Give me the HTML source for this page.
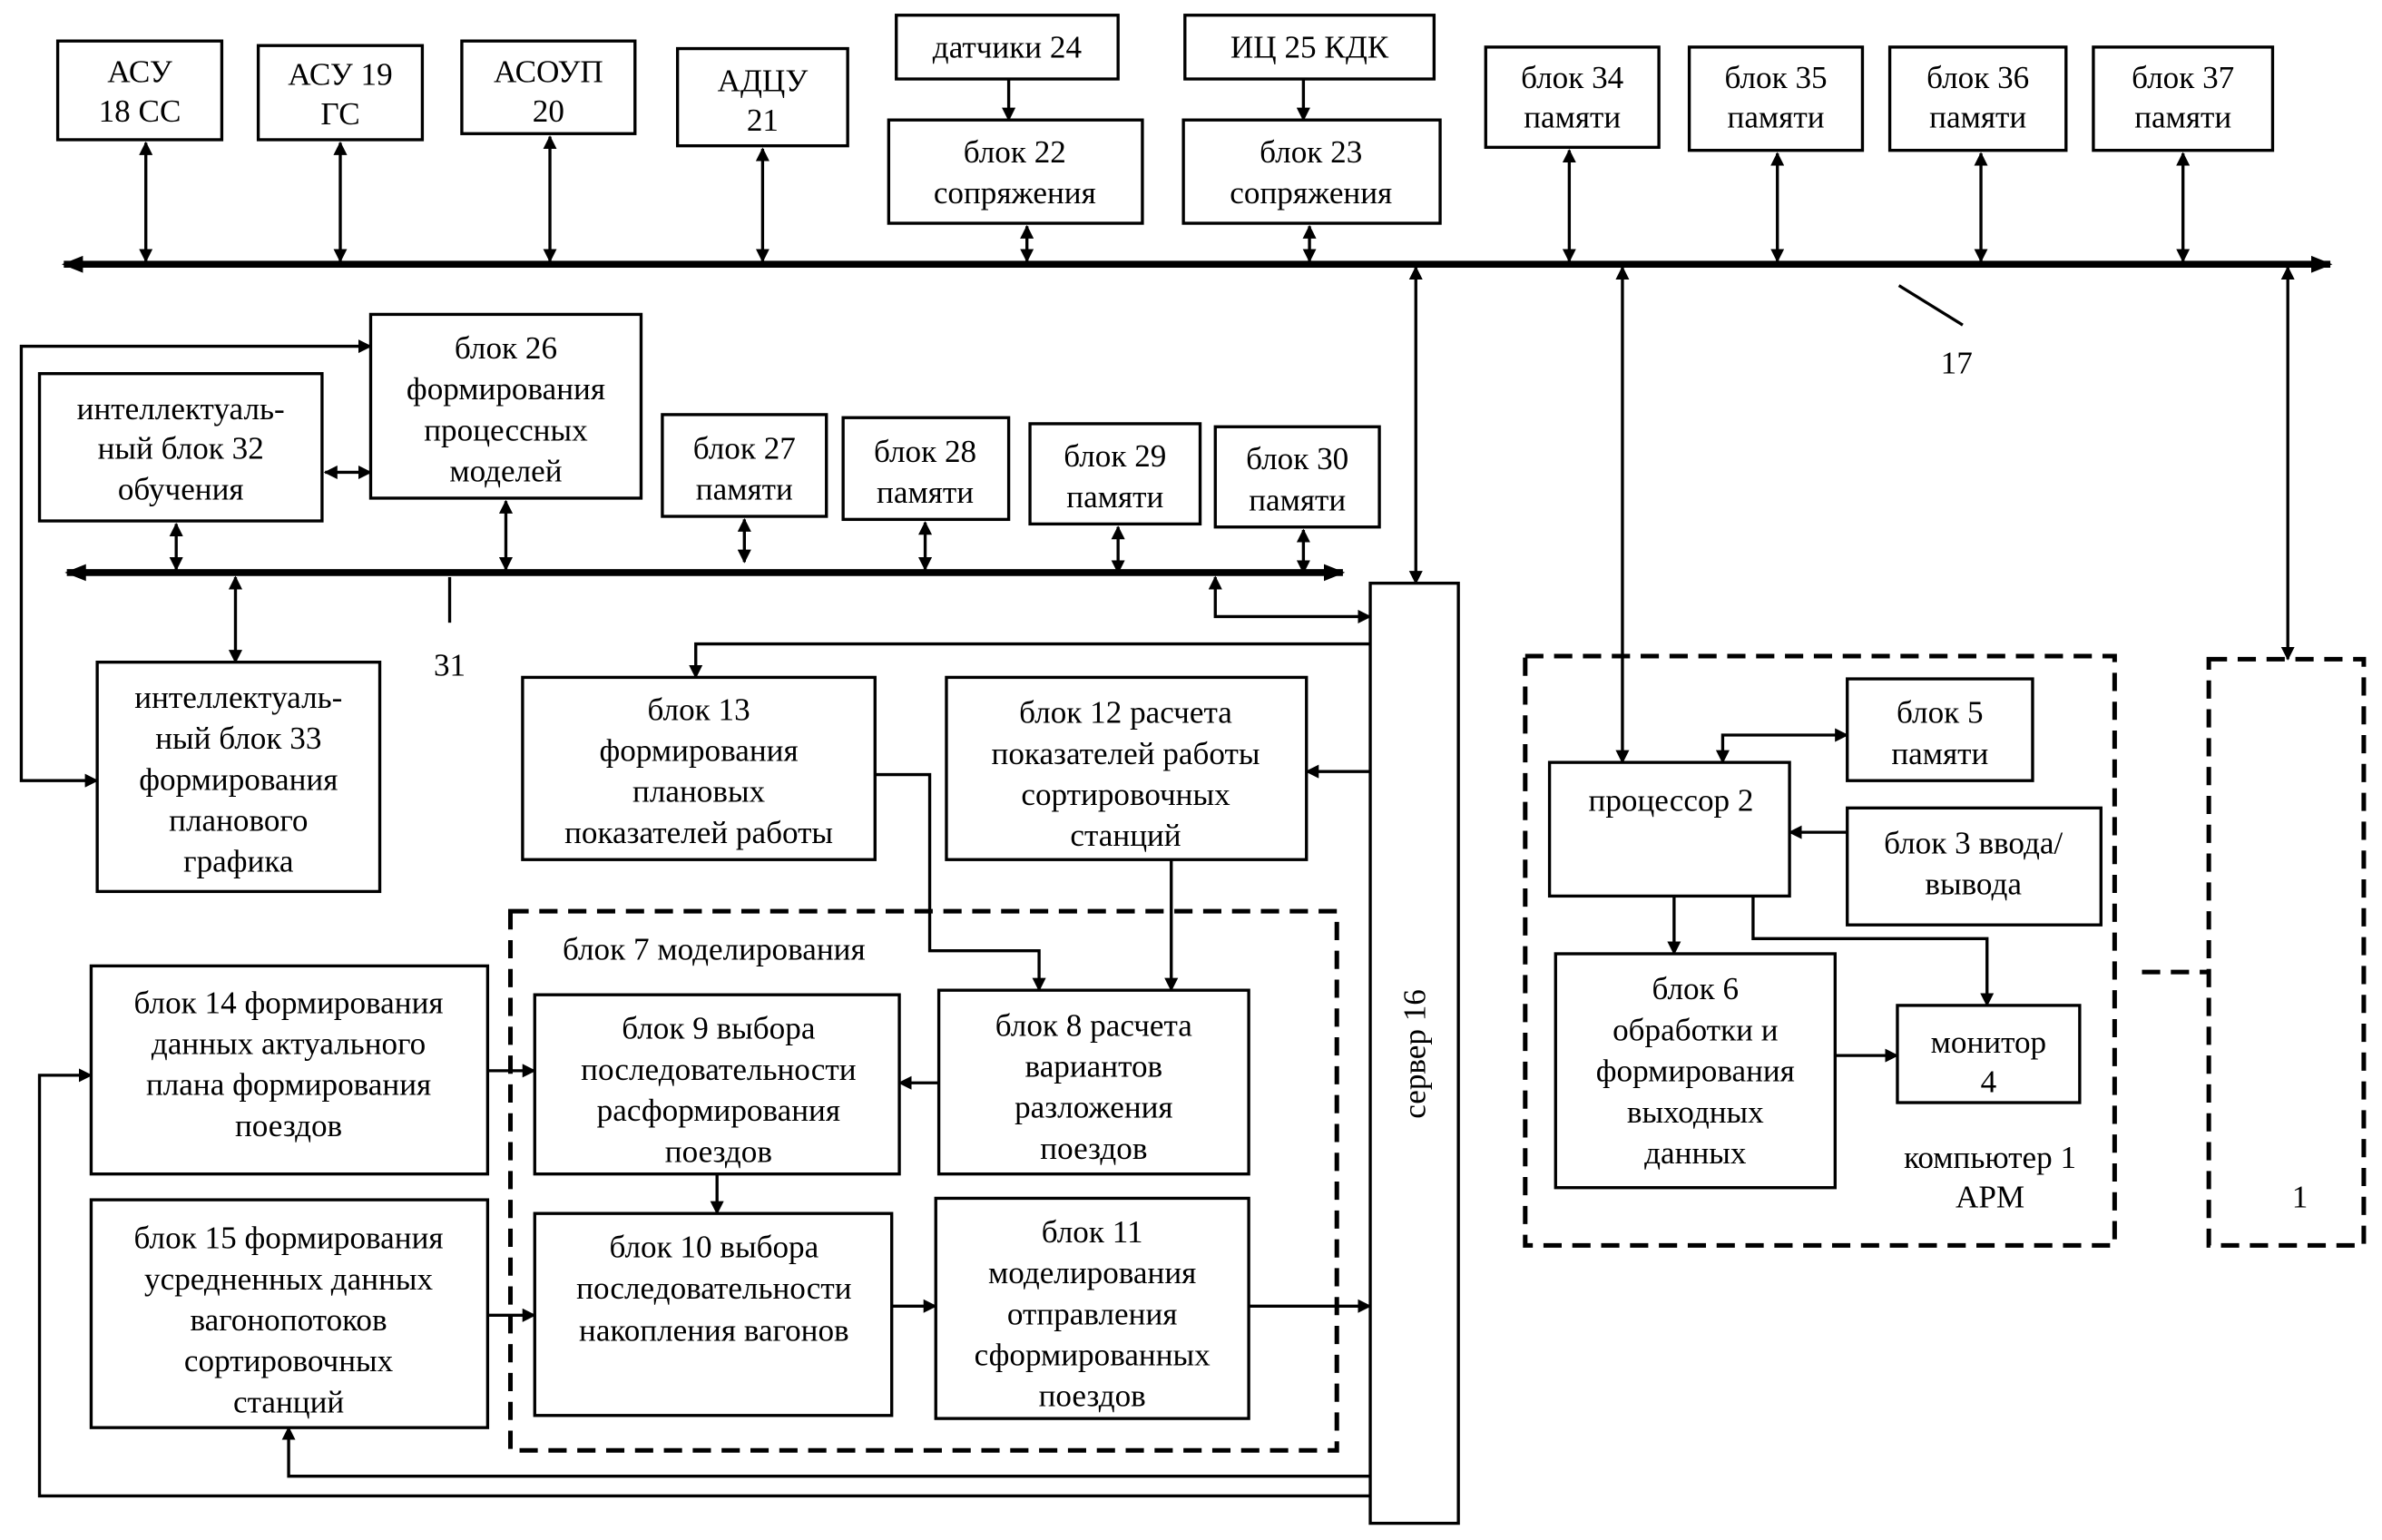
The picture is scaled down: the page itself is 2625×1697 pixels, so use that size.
<!DOCTYPE html>
<html><head><meta charset="utf-8"><style>
html,body{margin:0;padding:0;background:#fff;}
svg{display:block;}
text{font-family:"Liberation Serif","DejaVu Serif",serif;font-size:21px;fill:#000;text-anchor:middle;}
</style></head><body>
<svg width="2625" height="1697" viewBox="0 0 1568 1014" preserveAspectRatio="none" xmlns="http://www.w3.org/2000/svg" font-family="Liberation Serif, DejaVu Serif, serif">
<defs>
<marker id="a" viewBox="0 0 10 10" refX="9" refY="5" markerWidth="9" markerHeight="9" orient="auto-start-reverse" markerUnits="userSpaceOnUse"><path d="M0,0 L10,5 L0,10 z" fill="#000"/></marker>
<marker id="b" viewBox="0 0 10 10" refX="9" refY="5" markerWidth="14" markerHeight="14" orient="auto-start-reverse" markerUnits="userSpaceOnUse"><path d="M0,1 L10,5 L0,9 z" fill="#000"/></marker>
</defs>
<g fill="none" stroke="#000" stroke-width="2">
<rect x="38" y="27" width="108" height="65"/>
<rect x="170" y="30" width="108" height="62"/>
<rect x="304" y="27" width="114" height="61"/>
<rect x="446" y="32" width="112" height="64"/>
<rect x="590" y="10" width="146" height="42"/>
<rect x="585" y="79" width="167" height="68"/>
<rect x="780" y="10" width="164" height="42"/>
<rect x="779" y="79" width="169" height="68"/>
<rect x="978" y="31" width="114" height="66"/>
<rect x="1112" y="31" width="114" height="68"/>
<rect x="1244" y="31" width="116" height="68"/>
<rect x="1378" y="31" width="118" height="68"/>
<rect x="244" y="207" width="178" height="121"/>
<rect x="26" y="246" width="186" height="97"/>
<rect x="436" y="273" width="108" height="67"/>
<rect x="555" y="275" width="109" height="67"/>
<rect x="678" y="279" width="112" height="66"/>
<rect x="800" y="281" width="108" height="66"/>
<rect x="64" y="436" width="186" height="151"/>
<rect x="902" y="384" width="58" height="619"/>
<rect x="344" y="446" width="232" height="120"/>
<rect x="623" y="446" width="237" height="120"/>
<rect x="352" y="655" width="240" height="118"/>
<rect x="618" y="652" width="204" height="121"/>
<rect x="352" y="799" width="235" height="133"/>
<rect x="616" y="789" width="206" height="145"/>
<rect x="60" y="636" width="261" height="137"/>
<rect x="60" y="790" width="261" height="150"/>
<rect x="1216" y="447" width="122" height="67"/>
<rect x="1020" y="502" width="158" height="88"/>
<rect x="1216" y="532" width="167" height="77"/>
<rect x="1024" y="628" width="184" height="154"/>
<rect x="1249" y="662" width="120" height="64"/>
</g>
<g fill="none" stroke="#000" stroke-width="3" stroke-dasharray="12,7">
<rect x="336" y="600" width="544" height="355"/>
<rect x="1004" y="432" width="388" height="388"/>
<rect x="1454" y="434" width="102" height="386"/>
<line x1="1410" y1="640" x2="1454" y2="640"/>
</g>
<g stroke="#000" stroke-width="4.5">
<line x1="42" y1="174" x2="1534" y2="174" marker-start="url(#b)" marker-end="url(#b)"/>
<line x1="44" y1="377" x2="884" y2="377" marker-start="url(#b)" marker-end="url(#b)"/>
</g>
<g stroke="#000" stroke-width="2" fill="none">
<line x1="96" y1="94" x2="96" y2="172" marker-start="url(#a)" marker-end="url(#a)"/>
<line x1="224" y1="94" x2="224" y2="172" marker-start="url(#a)" marker-end="url(#a)"/>
<line x1="362" y1="90" x2="362" y2="172" marker-start="url(#a)" marker-end="url(#a)"/>
<line x1="502" y1="98" x2="502" y2="172" marker-start="url(#a)" marker-end="url(#a)"/>
<line x1="676" y1="149" x2="676" y2="172" marker-start="url(#a)" marker-end="url(#a)"/>
<line x1="862" y1="149" x2="862" y2="172" marker-start="url(#a)" marker-end="url(#a)"/>
<line x1="664" y1="52" x2="664" y2="79" marker-end="url(#a)"/>
<line x1="858" y1="52" x2="858" y2="79" marker-end="url(#a)"/>
<line x1="1033" y1="99" x2="1033" y2="172" marker-start="url(#a)" marker-end="url(#a)"/>
<line x1="1170" y1="101" x2="1170" y2="172" marker-start="url(#a)" marker-end="url(#a)"/>
<line x1="1304" y1="101" x2="1304" y2="172" marker-start="url(#a)" marker-end="url(#a)"/>
<line x1="1437" y1="101" x2="1437" y2="172" marker-start="url(#a)" marker-end="url(#a)"/>
<line x1="932" y1="176" x2="932" y2="384" marker-start="url(#a)" marker-end="url(#a)"/>
<line x1="1068" y1="176" x2="1068" y2="502" marker-start="url(#a)" marker-end="url(#a)"/>
<line x1="1506" y1="176" x2="1506" y2="434" marker-start="url(#a)" marker-end="url(#a)"/>
<line x1="1250" y1="188" x2="1292" y2="214"/>
<line x1="214" y1="311" x2="244" y2="311" marker-start="url(#a)" marker-end="url(#a)"/>
<line x1="116" y1="345" x2="116" y2="375" marker-start="url(#a)" marker-end="url(#a)"/>
<line x1="333" y1="330" x2="333" y2="375" marker-start="url(#a)" marker-end="url(#a)"/>
<line x1="490" y1="342" x2="490" y2="370" marker-start="url(#a)" marker-end="url(#a)"/>
<line x1="609" y1="344" x2="609" y2="375" marker-start="url(#a)" marker-end="url(#a)"/>
<line x1="736" y1="347" x2="736" y2="377" marker-start="url(#a)" marker-end="url(#a)"/>
<line x1="858" y1="349" x2="858" y2="377" marker-start="url(#a)" marker-end="url(#a)"/>
<line x1="155" y1="380" x2="155" y2="436" marker-start="url(#a)" marker-end="url(#a)"/>
<line x1="296" y1="380" x2="296" y2="410"/>
<polyline points="244,228 14,228 14,514 64,514" marker-start="url(#a)" marker-end="url(#a)"/>
<polyline points="800,380 800,406 902,406" marker-start="url(#a)" marker-end="url(#a)"/>
<polyline points="902,424 458,424 458,446" marker-end="url(#a)"/>
<line x1="902" y1="508" x2="860" y2="508" marker-end="url(#a)"/>
<polyline points="576,510 612,510 612,626 684,626 684,652" marker-end="url(#a)"/>
<line x1="771" y1="566" x2="771" y2="652" marker-end="url(#a)"/>
<line x1="618" y1="713" x2="592" y2="713" marker-end="url(#a)"/>
<line x1="472" y1="773" x2="472" y2="799" marker-end="url(#a)"/>
<line x1="587" y1="860" x2="616" y2="860" marker-end="url(#a)"/>
<line x1="822" y1="860" x2="902" y2="860" marker-end="url(#a)"/>
<line x1="321" y1="705" x2="352" y2="705" marker-end="url(#a)"/>
<line x1="321" y1="866" x2="352" y2="866" marker-end="url(#a)"/>
<polyline points="902,985 26,985 26,708 60,708" marker-end="url(#a)"/>
<polyline points="902,972 190,972 190,940" marker-end="url(#a)"/>
<polyline points="1216,484 1134,484 1134,502" marker-start="url(#a)" marker-end="url(#a)"/>
<line x1="1216" y1="548" x2="1178" y2="548" marker-end="url(#a)"/>
<line x1="1102" y1="590" x2="1102" y2="628" marker-end="url(#a)"/>
<line x1="1208" y1="695" x2="1249" y2="695" marker-end="url(#a)"/>
<polyline points="1154,590 1154,618 1308,618 1308,662" marker-end="url(#a)"/>
</g>
<g font-family="Liberation Serif, DejaVu Serif, serif">
<text x="92" y="54">АСУ</text><text x="92" y="80">18 СС</text>
<text x="224" y="56">АСУ 19</text><text x="224" y="82">ГС</text>
<text x="361" y="54">АСОУП</text><text x="361" y="80">20</text>
<text x="502" y="60">АДЦУ</text><text x="502" y="86">21</text>
<text x="663" y="38">датчики 24</text>
<text x="668" y="107">блок 22</text><text x="668" y="134">сопряжения</text>
<text x="862" y="38">ИЦ 25 КДК</text>
<text x="863" y="107">блок 23</text><text x="863" y="134">сопряжения</text>
<text x="1035" y="58">блок 34</text><text x="1035" y="84">памяти</text>
<text x="1169" y="58">блок 35</text><text x="1169" y="84">памяти</text>
<text x="1302" y="58">блок 36</text><text x="1302" y="84">памяти</text>
<text x="1437" y="58">блок 37</text><text x="1437" y="84">памяти</text>
<text x="1288" y="246">17</text>
<text x="333" y="236">блок 26</text><text x="333" y="263">формирования</text><text x="333" y="290">процессных</text><text x="333" y="317">моделей</text>
<text x="119" y="276">интеллектуаль-</text><text x="119" y="302">ный блок 32</text><text x="119" y="329">обучения</text>
<text x="490" y="302">блок 27</text><text x="490" y="329">памяти</text>
<text x="609" y="304">блок 28</text><text x="609" y="331">памяти</text>
<text x="734" y="307">блок 29</text><text x="734" y="334">памяти</text>
<text x="854" y="309">блок 30</text><text x="854" y="336">памяти</text>
<text x="296" y="445">31</text>
<text x="157" y="466">интеллектуаль-</text><text x="157" y="493">ный блок 33</text><text x="157" y="520">формирования</text><text x="157" y="547">планового</text><text x="157" y="574">графика</text>
<text x="460" y="474">блок 13</text><text x="460" y="501">формирования</text><text x="460" y="528">плановых</text><text x="460" y="555">показателей работы</text>
<text x="741" y="476">блок 12 расчета</text><text x="741" y="503">показателей работы</text><text x="741" y="530">сортировочных</text><text x="741" y="557">станций</text>
<text x="470" y="632">блок 7 моделирования</text>
<text x="473" y="684">блок 9 выбора</text><text x="473" y="711">последовательности</text><text x="473" y="738">расформирования</text><text x="473" y="765">поездов</text>
<text x="720" y="682">блок 8 расчета</text><text x="720" y="709">вариантов</text><text x="720" y="736">разложения</text><text x="720" y="763">поездов</text>
<text x="470" y="828">блок 10 выбора</text><text x="470" y="855">последовательности</text><text x="470" y="883">накопления вагонов</text>
<text x="719" y="818">блок 11</text><text x="719" y="845">моделирования</text><text x="719" y="872">отправления</text><text x="719" y="899">сформированных</text><text x="719" y="926">поездов</text>
<text x="190" y="667">блок 14 формирования</text><text x="190" y="694">данных актуального</text><text x="190" y="721">плана формирования</text><text x="190" y="748">поездов</text>
<text x="190" y="822">блок 15 формирования</text><text x="190" y="849">усредненных данных</text><text x="190" y="876">вагонопотоков</text><text x="190" y="903">сортировочных</text><text x="190" y="930">станций</text>
<text transform="translate(938,694) rotate(-90)">сервер 16</text>
<text x="1277" y="476">блок 5</text><text x="1277" y="503">памяти</text>
<text x="1100" y="534">процессор 2</text>
<text x="1299" y="562">блок 3 ввода/</text><text x="1299" y="589">вывода</text>
<text x="1116" y="658">блок 6</text><text x="1116" y="685">обработки и</text><text x="1116" y="712">формирования</text><text x="1116" y="739">выходных</text><text x="1116" y="766">данных</text>
<text x="1309" y="693">монитор</text><text x="1309" y="719">4</text>
<text x="1310" y="769">компьютер 1</text><text x="1310" y="795">АРМ</text>
<text x="1514" y="795">1</text>
</g>
</svg>
</body></html>
